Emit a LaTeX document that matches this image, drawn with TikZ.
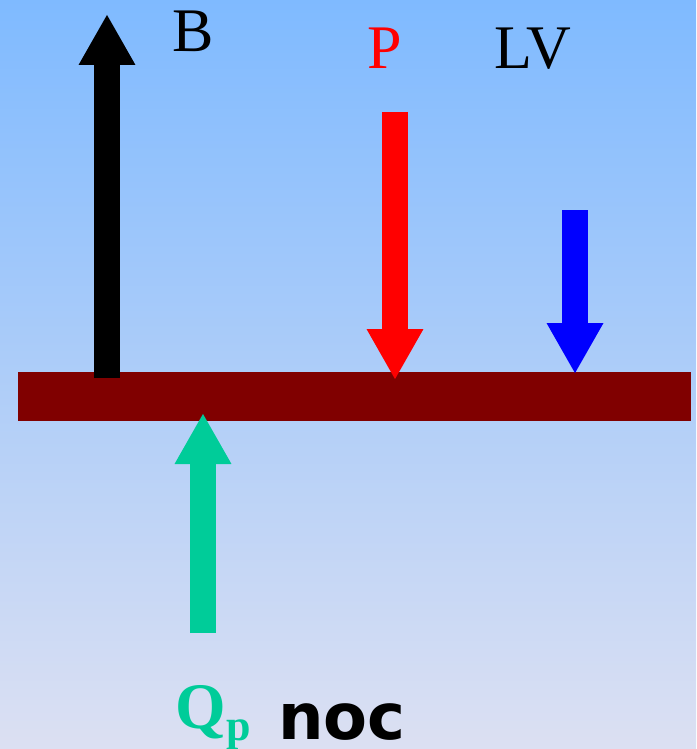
\documentclass[tikz,border=0pt]{standalone}
\usepackage{fontspec}
\setmainfont{Liberation Serif}
\newfontfamily\labelsans{DejaVu Sans}
\usepackage{xcolor}
\usepackage{tikz}
\usetikzlibrary{arrows.meta,positioning,calc}

\definecolor{skytop}{RGB}{127,186,255}
\definecolor{skybottom}{RGB}{220,224,242}
\definecolor{beamred}{RGB}{128,0,0}
\definecolor{qgreen}{RGB}{0,204,153}

\begin{document}
\begin{tikzpicture}[
  x=1pt, y=-1pt,
  force/.style={line width=26pt, -{Triangle[length=51pt, width=53pt]}},
  beam/.style={rectangle, fill=beamred, minimum width=673pt, minimum height=49pt, inner sep=0pt},
  lbl/.style={anchor=base, inner sep=0pt, font=\fontsize{62}{62}\selectfont}
]

% Background
\useasboundingbox (0,0) rectangle (696,749);
\shade[top color=skytop, bottom color=skybottom] (0,0) rectangle (696,749);

% Beam
\node[beam] (beam) at (354.5,396.5) {};

% Force end points
\coordinate (bfoot) at (107,378);
\coordinate (btip) at (107,14);
\coordinate (ptail) at (395,112);
\coordinate (ptip) at (395,380);
\coordinate (lvtail) at (575,210);
\coordinate (lvtip) at (575,374);
\coordinate (qtail) at (203,633);
\coordinate (qtip) at (203,413);

% Forces
\draw[force, black] (bfoot) -- (btip);
\draw[force, red] (ptail) -- (ptip);
\draw[force, blue] (lvtail) -- (lvtip);
\draw[force, qgreen] (qtail) -- (qtip);

% Labels
\node[lbl] (blabel) at (193,52) {B};
\node[lbl, text=red] (plabel) at (384.5,69) {P};
\node[lbl] (lvlabel) at (533,69) {LV};
\node[lbl, anchor=base west, text=qgreen, font=\fontsize{65}{65}\selectfont\bfseries] (qlabel) at (175,728)
  {Q\hspace{1pt}\raisebox{-12pt}{\fontsize{44}{44}\selectfont p}};
\node[lbl, anchor=base west, font=\fontsize{64}{64}\selectfont\labelsans\bfseries] (noclabel) at (278,739) {noc};

\end{tikzpicture}
\end{document}
